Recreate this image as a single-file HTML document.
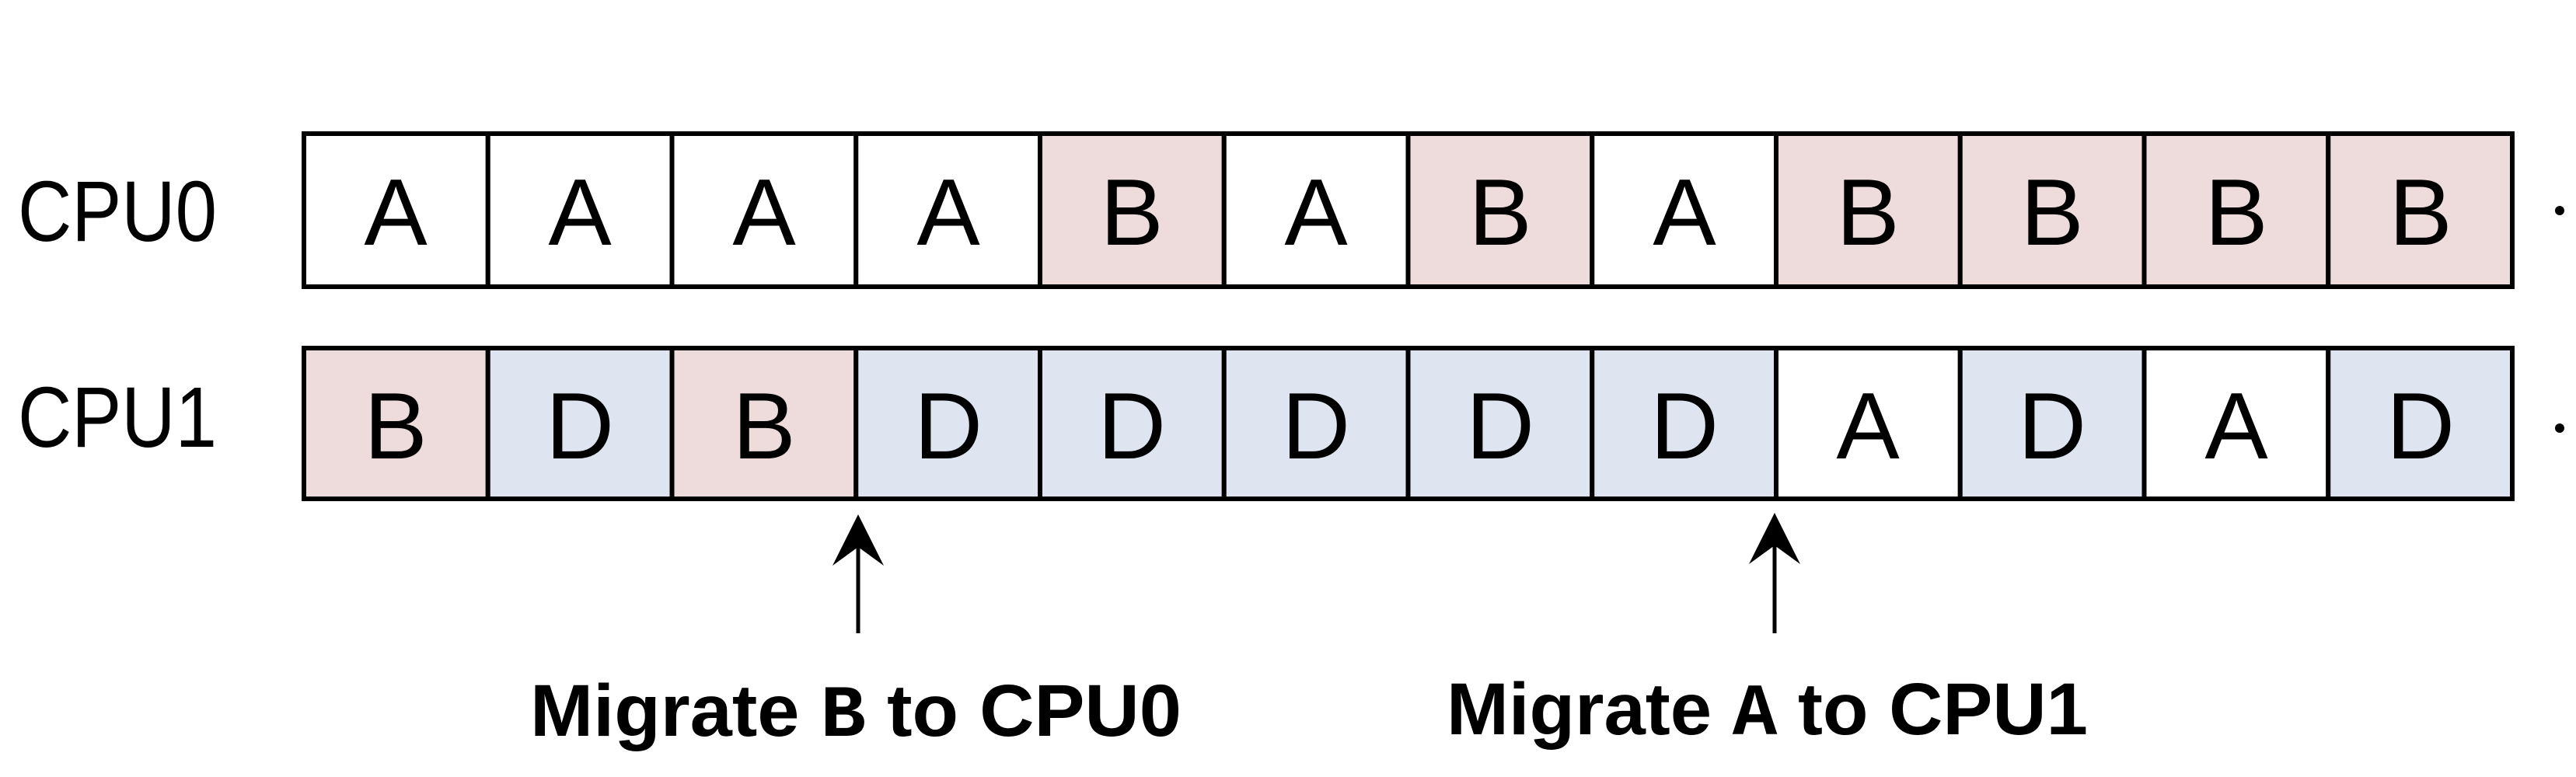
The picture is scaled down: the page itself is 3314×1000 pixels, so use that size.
<!DOCTYPE html>
<html><head><meta charset="utf-8"><style>
html,body{margin:0;padding:0;background:#fff;}
svg{display:block;}
</style></head><body>
<svg width="3314" height="1000" viewBox="0 0 3314 1000" xmlns="http://www.w3.org/2000/svg">
<rect width="3314" height="1000" fill="#fff"/>
<g font-family="Liberation Sans, DejaVu Sans, sans-serif" fill="#000">
<text x="23" y="310" font-size="110" textLength="256" lengthAdjust="spacingAndGlyphs">CPU0</text>
<text x="23" y="575" font-size="110" textLength="256" lengthAdjust="spacingAndGlyphs">CPU1</text>
</g>
<g id="cells" stroke="#000" stroke-width="6" font-family="Liberation Sans, DejaVu Sans, sans-serif" font-size="122" text-anchor="middle">
<!-- row 1 -->
<rect x="391" y="172" width="236.75" height="197" fill="#fff"/>
<rect x="627.75" y="172" width="236.75" height="197" fill="#fff"/>
<rect x="864.5" y="172" width="236.75" height="197" fill="#fff"/>
<rect x="1101.25" y="172" width="236.75" height="197" fill="#fff"/>
<rect x="1338" y="172" width="236.75" height="197" fill="#eedcdc"/>
<rect x="1574.75" y="172" width="236.75" height="197" fill="#fff"/>
<rect x="1811.5" y="172" width="236.75" height="197" fill="#eedcdc"/>
<rect x="2048.25" y="172" width="236.75" height="197" fill="#fff"/>
<rect x="2285" y="172" width="236.75" height="197" fill="#eedcdc"/>
<rect x="2521.75" y="172" width="236.75" height="197" fill="#eedcdc"/>
<rect x="2758.5" y="172" width="236.75" height="197" fill="#eedcdc"/>
<rect x="2995.25" y="172" width="236.75" height="197" fill="#eedcdc"/>
<!-- row 2 -->
<rect x="391" y="448" width="236.75" height="194" fill="#eedcdc"/>
<rect x="627.75" y="448" width="236.75" height="194" fill="#dfe5f0"/>
<rect x="864.5" y="448" width="236.75" height="194" fill="#eedcdc"/>
<rect x="1101.25" y="448" width="236.75" height="194" fill="#dfe5f0"/>
<rect x="1338" y="448" width="236.75" height="194" fill="#dfe5f0"/>
<rect x="1574.75" y="448" width="236.75" height="194" fill="#dfe5f0"/>
<rect x="1811.5" y="448" width="236.75" height="194" fill="#dfe5f0"/>
<rect x="2048.25" y="448" width="236.75" height="194" fill="#dfe5f0"/>
<rect x="2285" y="448" width="236.75" height="194" fill="#fff"/>
<rect x="2521.75" y="448" width="236.75" height="194" fill="#dfe5f0"/>
<rect x="2758.5" y="448" width="236.75" height="194" fill="#fff"/>
<rect x="2995.25" y="448" width="236.75" height="194" fill="#dfe5f0"/>
</g>
<g font-family="Liberation Sans, DejaVu Sans, sans-serif" font-size="122" text-anchor="middle" fill="#000">
<text x="509" y="315">A</text><text x="746" y="315">A</text><text x="983" y="315">A</text><text x="1220" y="315">A</text>
<text x="1456" y="315">B</text><text x="1693" y="315">A</text><text x="1930" y="315">B</text><text x="2167" y="315">A</text>
<text x="2403" y="315">B</text><text x="2640" y="315">B</text><text x="2877" y="315">B</text><text x="3114" y="315">B</text>
<text x="509" y="590">B</text><text x="746" y="590">D</text><text x="983" y="590">B</text><text x="1220" y="590">D</text>
<text x="1456" y="590">D</text><text x="1693" y="590">D</text><text x="1930" y="590">D</text><text x="2167" y="590">D</text>
<text x="2403" y="590">A</text><text x="2640" y="590">D</text><text x="2877" y="590">A</text><text x="3114" y="590">D</text>
</g>
<circle cx="3293" cy="271" r="6" fill="#000"/>
<circle cx="3293" cy="551" r="6" fill="#000"/>
<!-- arrows -->
<line x1="1104" y1="815" x2="1104" y2="700" stroke="#000" stroke-width="5"/>
<polygon points="1104,662 1137,728 1104,704 1071,728" fill="#000"/>
<line x1="2283" y1="815" x2="2283" y2="700" stroke="#000" stroke-width="5"/>
<polygon points="2283,660 2316,726 2283,702 2250,726" fill="#000"/>
<g font-family="Liberation Sans, DejaVu Sans, sans-serif" font-weight="bold" font-size="95" fill="#000">
<text x="682" y="947" textLength="838" lengthAdjust="spacingAndGlyphs">Migrate <tspan font-family="Liberation Mono, monospace">B</tspan> to CPU0</text>
<text x="1861" y="945" textLength="825" lengthAdjust="spacingAndGlyphs">Migrate <tspan font-family="Liberation Mono, monospace">A</tspan> to CPU1</text>
</g>
</svg>
</body></html>
